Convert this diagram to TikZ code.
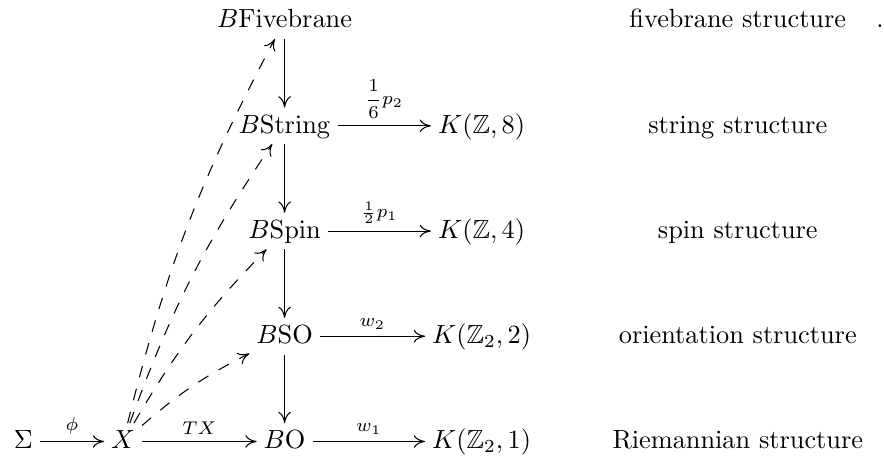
\documentclass[tikz,border=0pt]{standalone}
\usepackage{amsmath,amssymb}
\usepackage{tikz}
\usetikzlibrary{arrows.meta,positioning}
\tikzset{
  >={Computer Modern Rightarrow[length=4.3pt,width=4.8pt]},
  obj/.style={inner sep=2.5pt,text height=7pt,text depth=1.5pt},
  structlbl/.style={obj},
  mor/.style={->,line width=0.4pt},
  lift/.style={->,line width=0.4pt,dash pattern=on 4.5pt off 4.5pt,bend left=7},
  morlbl/.style={font=\scriptsize,inner sep=2.5pt,above},
}
\begin{document}
\begin{tikzpicture}[x=1pt,y=1pt]
  \useasboundingbox (0,0) rectangle (336.1,173);
  % middle column
  \node[obj] (BO) at (108.2,5.15) {$B\mathrm{O}$};
  \node[obj] (BSO) at (108.2,45.15) {$B\mathrm{SO}$};
  \node[obj] (BSpin) at (108.2,85.15) {$B\mathrm{Spin}$};
  \node[obj] (BString) at (108.2,125.15) {$B\mathrm{String}$};
  \node[obj] (BFive) at (108.2,165.15) {$B\mathrm{Fivebrane}$};
  % left
  \node[obj] (Sig) at (8.9,5.15) {$\Sigma$};
  \node[obj] (X) at (46.8,5.15) {$X$};
  % classifying maps
  \node[obj] (K1) at (183.1,5.15) {$K(\mathbb{Z}_2,1)$};
  \node[obj] (K2) at (183.1,45.15) {$K(\mathbb{Z}_2,2)$};
  \node[obj] (K4) at (183.1,85.15) {$K(\mathbb{Z},4)$};
  \node[obj] (K8) at (183.1,125.15) {$K(\mathbb{Z},8)$};
  % structures
  \node[structlbl] (sR) at (280.5,5.15) {Riemannian structure};
  \node[structlbl] (sO) at (280.5,45.15) {orientation structure};
  \node[structlbl] (sSp) at (280.5,85.15) {spin structure};
  \node[structlbl] (sSt) at (280.5,125.15) {string structure};
  \node[structlbl] (sF) at (280.5,165.15) {fivebrane structure};
  \node[structlbl] (dot) at (334.6,165.15) {.};

  \path (Sig) edge[mor] node[morlbl]{$\phi$} (X)
        (X) edge[mor] node[morlbl]{$TX$} (BO)
        (BO) edge[mor] node[morlbl]{$w_1$} (K1)
        (BSO) edge[mor] node[morlbl]{$w_2$} (K2)
        (BSpin) edge[mor] node[morlbl]{$\frac{1}{2}p_1$} (K4)
        (BString) edge[mor] node[morlbl]{$\displaystyle\frac{1}{6}\textstyle p_2$} (K8);
  \path (BFive) edge[mor] (BString)
        (BString) edge[mor] (BSpin)
        (BSpin) edge[mor] (BSO)
        (BSO) edge[mor] (BO);
  % lifts
  \path (X) edge[lift] (BSO)
        (X) edge[lift] (BSpin)
        (X) edge[lift] (BString)
        (X) edge[lift] (BFive);
\end{tikzpicture}
\end{document}
